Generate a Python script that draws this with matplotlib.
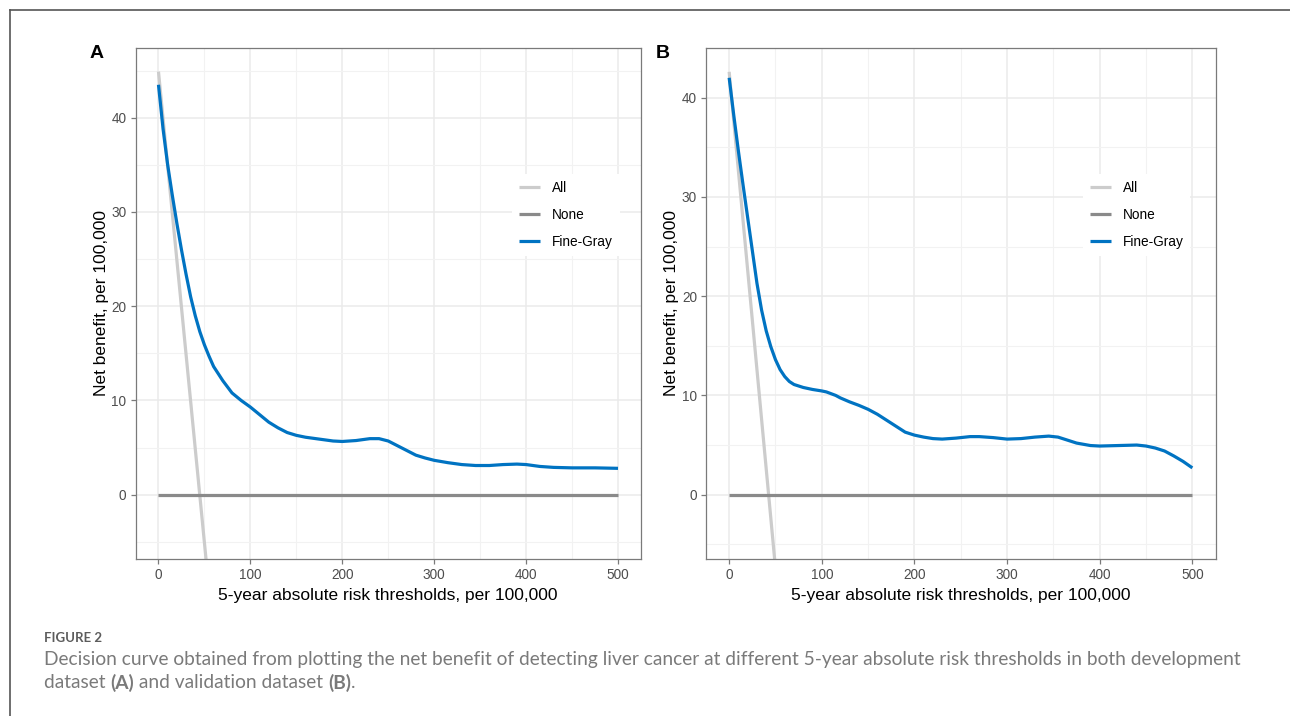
import matplotlib
matplotlib.use("Agg")
import matplotlib.pyplot as plt
from matplotlib.lines import Line2D
from matplotlib.ticker import MultipleLocator

# ---- data ----
thresholds_all = [0, 60]
all_a = [44.9, -15.1]
all_b = [42.6, -17.4]
none_x = [0, 500]
none_y = [0, 0]

fg_x_a = [0, 5, 10, 15, 20, 25, 30, 35, 40, 45, 50, 55, 60, 70, 80, 90, 100,
          110, 120, 130, 140, 150, 160, 175, 190, 200, 215, 230, 240, 250,
          260, 270, 280, 290, 300, 315, 330, 345, 360, 375, 390, 400, 415,
          430, 450, 475, 500]
fg_y_a = [43.5, 38.8, 35.0, 31.8, 28.8, 26.0, 23.4, 21.0, 19.0, 17.3, 15.9,
          14.7, 13.6, 12.1, 10.8, 10.0, 9.3, 8.5, 7.7, 7.1, 6.6, 6.3, 6.1,
          5.9, 5.7, 5.65, 5.75, 5.95, 5.95, 5.7, 5.2, 4.7, 4.2, 3.9, 3.65,
          3.4, 3.2, 3.1, 3.1, 3.2, 3.25, 3.2, 3.0, 2.9, 2.85, 2.85, 2.8]

fg_x_b = [0, 5, 10, 15, 20, 25, 30, 35, 40, 45, 50, 55, 60, 65, 70, 80, 90,
          100, 105, 115, 120, 130, 140, 150, 160, 170, 180, 190, 200, 210, 220,
          230, 245, 260, 270, 285, 300, 315, 330, 345, 355, 365, 375, 390,
          400, 420, 440, 450, 460, 470, 480, 490, 500]
fg_y_b = [42.0, 38.2, 34.6, 31.2, 27.9, 24.6, 21.3, 18.6, 16.5, 14.9, 13.6,
          12.6, 11.9, 11.4, 11.1, 10.8, 10.6, 10.45, 10.35, 10.0, 9.75, 9.35,
          9.0, 8.6, 8.1, 7.5, 6.9, 6.3, 6.0, 5.8, 5.65, 5.6, 5.7, 5.85, 5.85,
          5.75, 5.6, 5.65, 5.8, 5.9, 5.8, 5.5, 5.2, 4.95, 4.9, 4.95, 5.0,
          4.9, 4.7, 4.4, 3.9, 3.35, 2.7]

panels = [
    ("A", all_a, fg_x_a, fg_y_a, (-6.82, 47.4)),
    ("B", all_b, fg_x_b, fg_y_b, (-6.48, 45.0)),
]

ALL_C = "#cccccc"
NONE_C = "#8a8a8a"
FG_C = "#0073c2"
GRID = "#ebebeb"
TICK_C = "#4d4d4d"

W, H = 1290, 716
fig = plt.figure(figsize=(W / 100, H / 100), dpi=100)
plt.rcParams["font.family"] = ["Liberation Sans", "DejaVu Sans"]

boxes = [(135.5, 641.0), (706.0, 1215.5)]
top_px, bot_px = 48.0, 559.0

for (label, all_y, fx, fy, ylim), (l, r) in zip(panels, boxes):
    ax = fig.add_axes([l / W, 1 - bot_px / H, (r - l) / W, (bot_px - top_px) / H])
    ax.set_xlim(-25, 525)
    ax.set_ylim(*ylim)
    ax.xaxis.set_major_locator(MultipleLocator(100))
    ax.xaxis.set_minor_locator(MultipleLocator(50))
    ax.yaxis.set_major_locator(MultipleLocator(10))
    ax.yaxis.set_minor_locator(MultipleLocator(5))
    ax.grid(which="major", color=GRID, lw=1.1, zorder=0)
    ax.grid(which="minor", color="#f2f2f2", lw=0.8, zorder=0)
    ax.set_axisbelow(True)
    ax.tick_params(which="minor", length=0)
    ax.tick_params(which="major", length=3.5, width=0.9, color="#7a7a7a",
                   labelcolor=TICK_C, labelsize=9.8, pad=3)
    for s in ax.spines.values():
        s.set_color("#7a7a7a")
        s.set_linewidth(0.9)

    ax.plot(thresholds_all, all_y, color=ALL_C, lw=2.3, label="All",
            solid_capstyle="butt", zorder=2)
    ax.plot(none_x, none_y, color=NONE_C, lw=2.3, label="None",
            solid_capstyle="butt", zorder=2)
    ax.plot(fx, fy, color=FG_C, lw=2.3, label="Fine-Gray",
            solid_capstyle="butt", zorder=3)

    ax.set_xlabel("5-year absolute risk thresholds, per 100,000",
                  fontsize=12.5, labelpad=4)
    ax.set_ylabel("Net benefit, per 100,000", fontsize=12.5, labelpad=2)

    hx = (520 - 135.5) / 505.5 if label == "A" else (1090.7 - 706) / 509.5
    leg = ax.legend(loc="center left", bbox_to_anchor=(hx - 0.015, 0.673),
                    frameon=True, fontsize=9.8, handlelength=1.55,
                    handletextpad=0.85, labelspacing=0.95, borderpad=0.5,
                    borderaxespad=0)
    leg.get_frame().set_facecolor("white")
    leg.get_frame().set_edgecolor("none")
    leg.get_frame().set_alpha(1)
    leg.get_frame().set_boxstyle("square", pad=0)

    lx = 90 if label == "A" else 656
    fig.text(lx / W, 1 - 45 / H, label, fontsize=14, fontweight="bold",
             va="top", ha="left")

# outer frame (cropped at right and bottom)
fig.add_artist(Line2D([10 / W, 1], [1 - 10 / H, 1 - 10 / H], color="#555555",
                      lw=1.2, transform=fig.transFigure))
fig.add_artist(Line2D([10 / W, 10 / W], [0, 1 - 10 / H], color="#555555",
                      lw=1.2, transform=fig.transFigure))

# caption
cap_font = ["Lato", "DejaVu Sans"]
fig.text(44 / W, 1 - 638 / H, "FIGURE 2", fontsize=9.5, fontweight="bold",
         color="#5c5c5c", va="center", ha="left", family=cap_font)
line1 = ("Decision curve obtained from plotting the net benefit of detecting "
         "liver cancer at different 5-year absolute risk thresholds in both "
         "development")
t1 = fig.text(44 / W, 1 - 660 / H, line1, fontsize=13, color="#7a7a7a",
              va="center", ha="left", family=cap_font)
renderer = fig.canvas.get_renderer()
wpx = t1.get_window_extent(renderer).width
cap_size = 13 * (1242 - 44) / wpx
t1.set_fontsize(cap_size)

pieces = [("dataset ", "normal"), ("(A)", "bold"), (" and validation dataset ", "normal"),
          ("(B)", "bold"), (".", "normal")]
x = 44.0
for txt, wt in pieces:
    t = fig.text(x / W, 1 - 683 / H, txt, fontsize=cap_size, color="#7a7a7a",
                 fontweight=wt, va="center", ha="left", family=cap_font)
    x += t.get_window_extent(renderer).width

fig.savefig("out.png", dpi=100, facecolor="white")
